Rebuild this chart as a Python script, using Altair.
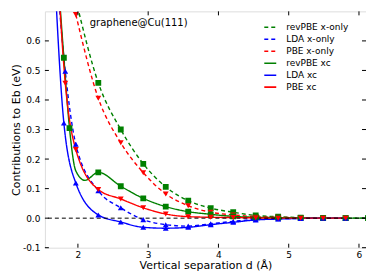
import altair as alt
import pandas as pd

# ---- data ----
SERIES = ["revPBE x-only", "LDA x-only", "PBE x-only", "revPBE xc", "LDA xc", "PBE xc"]
COLORS = ["#008000", "#0000ff", "#ff0000", "#008000", "#0000ff", "#ff0000"]
DASHES = [[4, 3], [4, 3], [4, 3], [1, 0], [1, 0], [1, 0]]
SHAPES = ["square", "triangle-up", "triangle-down", "square", "triangle-up", "triangle-down"]

revpbe_x_d = [1.97, 2.29, 2.61, 2.93, 3.25, 3.57, 3.89, 4.21, 4.53, 4.85, 5.17, 5.49, 5.81, 6.13]
revpbe_x_v = [0.74, 0.458, 0.300, 0.184, 0.106, 0.059, 0.034, 0.020, 0.009, 0.005, 0.002, 0.001, 0.000, 0.000]

lda_x_d = [1.70, 1.82, 1.97, 2.29, 2.61, 2.93, 3.25, 3.57, 3.89, 4.21, 4.53, 4.85, 5.17, 5.49, 5.81]
lda_x_v = [0.82, 0.497, 0.250, 0.093, 0.035, -0.005, -0.022, -0.027, -0.019, -0.011, -0.004, -0.002, -0.001, 0.000, 0.000]

pbe_x_d = [1.97, 2.29, 2.61, 2.93, 3.25, 3.57, 3.89, 4.21, 4.53, 4.85, 5.17, 5.49, 5.81]
pbe_x_v = [0.689, 0.406, 0.255, 0.154, 0.082, 0.042, 0.020, 0.011, 0.005, 0.003, 0.001, 0.000, 0.000]

revpbe_xc_d = [1.68, 1.80, 1.88, 2.29, 2.61, 2.93, 3.25, 3.57, 3.89, 4.21, 4.53, 4.85, 5.17, 5.49, 5.81, 6.13]
revpbe_xc_v = [0.95, 0.543, 0.305, 0.155, 0.108, 0.067, 0.039, 0.022, 0.013, 0.006, 0.003, 0.002, 0.001, 0.000, 0.000, 0.000]
# curve knots of the revPBE xc line that carry no marker (the dip near 2.1 A)
revpbe_xc_knot_d = [1.97, 2.10]
revpbe_xc_knot_v = [0.160, 0.128]

lda_xc_d = [1.65, 1.80, 1.97, 2.29, 2.61, 2.93, 3.25, 3.57, 3.89, 4.21, 4.53, 4.85, 5.17, 5.49, 5.81]
lda_xc_v = [0.92, 0.322, 0.119, 0.011, -0.013, -0.031, -0.034, -0.031, -0.022, -0.014, -0.006, -0.003, -0.001, 0.000, 0.000]

pbe_xc_d = [1.68, 1.82, 1.97, 2.29, 2.61, 2.93, 3.25, 3.57, 3.89, 4.21, 4.53, 4.85, 5.17, 5.49, 5.81]
pbe_xc_v = [0.98, 0.457, 0.232, 0.097, 0.065, 0.035, 0.014, 0.005, 0.003, 0.002, 0.001, 0.000, 0.000, 0.000, 0.000]

x_ticks = [2, 3, 4, 5, 6]
y_ticks = [-0.1, 0.0, 0.1, 0.2, 0.3, 0.4, 0.5, 0.6]

# ---- build tables ----
marker_sets = [
    (SERIES[0], revpbe_x_d, revpbe_x_v),
    (SERIES[1], lda_x_d, lda_x_v),
    (SERIES[2], pbe_x_d, pbe_x_v),
    (SERIES[3], revpbe_xc_d, revpbe_xc_v),
    (SERIES[4], lda_xc_d, lda_xc_v),
    (SERIES[5], pbe_xc_d, pbe_xc_v),
]
pts_rows = []
for i, (name, ds, vs) in enumerate(marker_sets):
    for d, v in zip(ds, vs):
        pts_rows.append({"series": name, "order": i, "d": d, "val": v})
pts = pd.DataFrame(pts_rows)

line_rows = list(pts_rows)
for d, v in zip(revpbe_xc_knot_d, revpbe_xc_knot_v):
    line_rows.append({"series": SERIES[3], "order": 3, "d": d, "val": v})
lines = pd.DataFrame(line_rows).sort_values(["order", "d"])

W, H = 322, 237
FONT = "DejaVu Sans"

xs = alt.Scale(domain=[1.53, 6.1], nice=False, zero=False)
ys = alt.Scale(domain=[-0.1, 0.7], nice=False, zero=False)

x_axis = alt.Axis(values=x_ticks, format="d", title="Vertical separation d (Å)",
                  grid=False, ticks=False, domain=False, labelFontSize=9,
                  labelPadding=3, titleFontSize=11, titleFontWeight="normal",
                  titlePadding=0, labelColor="black", titleColor="black",
                  labelFont=FONT, titleFont=FONT)
y_axis = alt.Axis(values=y_ticks, title="Contributions to Eb (eV)",
                  labelExpr="replace(format(datum.value, '.1f'), '\u2212', '-')",
                  grid=False, ticks=False, domain=False, labelFontSize=9,
                  labelPadding=5, titleFontSize=11, titleFontWeight="normal",
                  titlePadding=1, labelColor="black", titleColor="black",
                  labelFont=FONT, titleFont=FONT)

X = alt.X("d:Q", scale=xs, axis=x_axis)
Y = alt.Y("val:Q", scale=ys, axis=y_axis)

line_layer = alt.Chart(lines).mark_line(interpolate="monotone", clip=True, strokeWidth=1.4).encode(
    x=X, y=Y,
    color=alt.Color("series:N", scale=alt.Scale(domain=SERIES, range=COLORS),
                    legend=alt.Legend(title=None, orient="none", legendX=219, legendY=9,
                                      symbolType="stroke", symbolSize=144,
                                      symbolStrokeWidth=1.6, labelFontSize=9,
                                      labelFont=FONT, labelOffset=9, rowPadding=-0.4,
                                      padding=0, labelColor="black")),
    strokeDash=alt.StrokeDash("series:N", scale=alt.Scale(domain=SERIES, range=DASHES)),
    order=alt.Order("d:Q"),
)

zero = alt.Chart(pd.DataFrame({"val": [0.0]})).mark_rule(
    color="black", strokeDash=[4, 3], strokeWidth=1
).encode(y=Y)

point_layers = []
for i, name in enumerate(SERIES):
    sub = pts[pts["series"] == name]
    point_layers.append(
        alt.Chart(sub).mark_point(filled=True, opacity=1, clip=True, size=34,
                                  shape=SHAPES[i], color=COLORS[i]).encode(x=X, y=Y)
    )

xt = alt.Chart(pd.DataFrame({"d": x_ticks}))
yt = alt.Chart(pd.DataFrame({"val": y_ticks}))
tick_b = xt.mark_rule(color="black", strokeWidth=1).encode(
    x=X, y=alt.value(H), y2=alt.value(H - 4))
tick_t = xt.mark_rule(color="black", strokeWidth=1).encode(
    x=X, y=alt.value(0), y2=alt.value(4))
tick_l = yt.mark_rule(color="black", strokeWidth=1).encode(
    y=Y, x=alt.value(0), x2=alt.value(4))
tick_r = yt.mark_rule(color="black", strokeWidth=1).encode(
    y=Y, x=alt.value(W), x2=alt.value(W - 4))

label = alt.Chart(pd.DataFrame({"t": ["graphene@Cu(111)"]})).mark_text(
    align="left", baseline="middle", fontSize=10, font=FONT, color="black"
).encode(text="t:N", x=alt.value(45), y=alt.value(12))

chart = alt.layer(
    line_layer, zero, *point_layers, tick_b, tick_t, tick_l, tick_r, label
).properties(
    width=W, height=H,
    padding={"left": 37, "top": 3, "right": 0, "bottom": 24},
    autosize=alt.AutoSizeParams(type="none"),
).configure_view(
    stroke="black", strokeWidth=1
).configure(font=FONT)

chart.save("out.html", embed_options={"renderer": "svg", "actions": False})
